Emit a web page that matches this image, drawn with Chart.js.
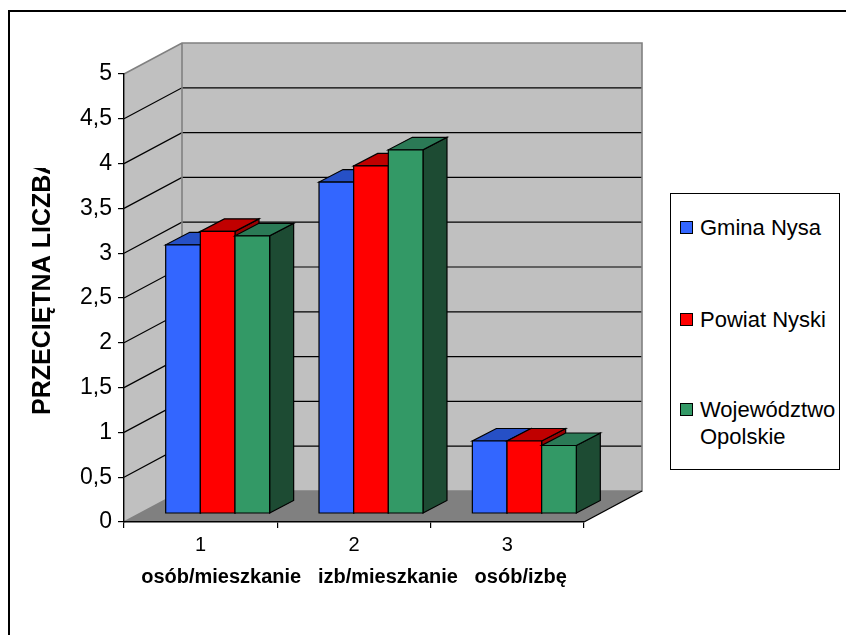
<!DOCTYPE html>
<html>
<head>
<meta charset="utf-8">
<script src="https://cdn.jsdelivr.net/npm/chart.js@4.4.1/dist/chart.umd.min.js"></script>
<style>
  html, body { margin: 0; padding: 0; background: #fff; }
  #wrap { position: relative; width: 846px; height: 635px; overflow: hidden; background: #fff; }
  #chart { position: absolute; left: 0; top: 0; }
  #frame { position: absolute; left: 8px; top: 10px; width: 1000px; height: 1000px;
           border-left: 2px solid #000; border-top: 2px solid #000; pointer-events: none; }
  #legend { position: absolute; left: 670px; top: 193px; width: 170px; height: 277px;
            border: 1.5px solid #000; box-sizing: border-box; background: #fff;
            font-family: "Liberation Sans", Arial, sans-serif; font-size: 22px; color: #000; }
  .lg-item { position: absolute; left: 0; width: 100%; }
  .lg-box { position: absolute; left: 9px; width: 11px; height: 11px; border: 1px solid #000; }
  .lg-text { position: absolute; left: 29px; width: 140px; line-height: 27px; white-space: normal; }
</style>
</head>
<body>
<div id="wrap">
  <canvas id="chart" width="846" height="635"></canvas>
  <div id="frame"></div>
  <div id="legend"></div>
</div>
<script>
// ---------- data ----------
const categories = ['1', '2', '3'];
const categoryTitle = 'osób/mieszkanie   izb/mieszkanie   osób/izbę';
const seriesNames = ['Gmina Nysa', 'Powiat Nyski', 'Województwo Opolskie'];
const gminaNysa   = [3.00, 3.70, 0.81];
const powiatNyski = [3.15, 3.88, 0.81];
const wojOpolskie = [3.10, 4.06, 0.76];
const yTicks = [0, 0.5, 1, 1.5, 2, 2.5, 3, 3.5, 4, 4.5, 5];
const yTitle = 'PRZECIĘTNA LICZBA';

// ---------- styles ----------
const FONT = '"Liberation Sans", Arial, sans-serif';
const frontColors = ['#3366FF', '#FF0000', '#339966'];
const topColors   = ['#2650C6', '#C00000', '#2B7A56'];
const sideColors  = ['#1E3D99', '#990000', '#1D4B33'];
const DX = 58, DY = -31;      // wall depth
const OX = 17, OY = -8.4;     // bar front plane offset
const BX = 24, BY = -12.5;    // bar depth

const walls3d = {
  id: 'walls3d',
  beforeDraw(chart) {
    const ctx = chart.ctx;
    const { left, right, top, bottom } = chart.chartArea;
    const ys = chart.scales.y;
    ctx.save();
    ctx.fillStyle = '#C0C0C0';
    ctx.beginPath();
    ctx.moveTo(left, top); ctx.lineTo(left + DX, top + DY);
    ctx.lineTo(left + DX, bottom + DY); ctx.lineTo(left, bottom); ctx.closePath();
    ctx.fill();
    ctx.fillRect(left + DX, top + DY, right - left, bottom - top);
    ctx.fillStyle = '#808080';
    ctx.beginPath();
    ctx.moveTo(left, bottom); ctx.lineTo(right, bottom);
    ctx.lineTo(right + DX, bottom + DY); ctx.lineTo(left + DX, bottom + DY); ctx.closePath();
    ctx.fill();
    ctx.strokeStyle = '#000'; ctx.lineWidth = 1.2;
    yTicks.forEach(v => {
      if (v === yTicks[0] || v === yTicks[yTicks.length - 1]) return;
      const py = ys.getPixelForValue(v);
      ctx.beginPath();
      ctx.moveTo(left, py); ctx.lineTo(left + DX, py + DY); ctx.lineTo(right + DX, py + DY);
      ctx.stroke();
    });
    ctx.strokeStyle = '#808080'; ctx.lineWidth = 1.6;
    ctx.beginPath();
    ctx.moveTo(left, top); ctx.lineTo(left + DX, top + DY); ctx.lineTo(right + DX, top + DY);
    ctx.lineTo(right + DX, bottom + DY); ctx.lineTo(left + DX, bottom + DY); ctx.lineTo(left, bottom);
    ctx.moveTo(left + DX, top + DY); ctx.lineTo(left + DX, bottom + DY);
    ctx.stroke();
    ctx.strokeStyle = '#000'; ctx.lineWidth = 1.4;
    ctx.beginPath();
    ctx.moveTo(right, bottom); ctx.lineTo(right + DX, bottom + DY);
    ctx.stroke();
    ctx.restore();
  },
  beforeDatasetsDraw(chart) {
    const ctx = chart.ctx;
    ctx.save();
    ctx.strokeStyle = '#000'; ctx.lineWidth = 1.2; ctx.lineJoin = 'miter';
    const nCat = chart.data.labels.length;
    for (let i = 0; i < nCat; i++) {
      chart.data.datasets.forEach((ds, d) => {
        const el = chart.getDatasetMeta(d).data[i];
        if (!el) return;
        const x0 = el.x - el.width / 2 + OX, x1 = el.x + el.width / 2 + OX;
        const yt = el.y + OY, yb = el.base + OY;
        ctx.fillStyle = sideColors[d];
        ctx.beginPath();
        ctx.moveTo(x1, yt); ctx.lineTo(x1 + BX, yt + BY); ctx.lineTo(x1 + BX, yb + BY); ctx.lineTo(x1, yb);
        ctx.closePath(); ctx.fill(); ctx.stroke();
        ctx.fillStyle = topColors[d];
        ctx.beginPath();
        ctx.moveTo(x0, yt); ctx.lineTo(x1, yt); ctx.lineTo(x1 + BX, yt + BY); ctx.lineTo(x0 + BX, yt + BY);
        ctx.closePath(); ctx.fill(); ctx.stroke();
        ctx.fillStyle = frontColors[d];
        ctx.beginPath();
        ctx.rect(x0, yt, x1 - x0, yb - yt);
        ctx.fill(); ctx.stroke();
      });
    }
    ctx.restore();
    return false;
  },
  afterDraw(chart) {
    const ctx = chart.ctx;
    ctx.save();
    ctx.beginPath();
    ctx.rect(0, 168, 120, 460);
    ctx.clip();
    ctx.translate(43, 415);
    ctx.rotate(-Math.PI / 2);
    ctx.font = 'bold 25px ' + FONT;
    ctx.fillStyle = '#000';
    ctx.textAlign = 'left';
    ctx.textBaseline = 'middle';
    ctx.fillText(yTitle, 0, 0);
    ctx.restore();
  }
};

const seriesValues = [gminaNysa, powiatNyski, wojOpolskie];

const chart = new Chart(document.getElementById('chart'), {
  type: 'bar',
  data: {
    labels: categories,
    datasets: seriesValues.map((vals, d) => ({
      label: seriesNames[d],
      data: vals,
      backgroundColor: frontColors[d],
      borderColor: '#000',
      borderWidth: 1,
      categoryPercentage: 0.678,
      barPercentage: 1.0
    }))
  },
  options: {
    responsive: false,
    animation: false,
    devicePixelRatio: 1,
    events: [],
    layout: { padding: { left: 0, top: 74, right: 262, bottom: 0 } },
    plugins: { legend: { display: false }, title: { display: false }, tooltip: { enabled: false } },
    scales: {
      x: {
        type: 'category',
        offset: true,
        grid: { display: true, offset: true, drawOnChartArea: false, drawTicks: true, tickLength: 6, color: '#000', lineWidth: 1.2 },
        border: { display: true, color: '#000', width: 1.4 },
        ticks: { color: '#000', font: { family: FONT, size: 20 }, padding: 5, maxRotation: 0 },
        title: { display: true, text: categoryTitle, color: '#000',
                 font: { family: FONT, size: 20, weight: 'bold' }, padding: { top: 0, bottom: 46 } },
        afterFit(s) { s.height = 113; }
      },
      y: {
        min: 0, max: 5,
        afterBuildTicks(s) { s.ticks = yTicks.map(v => ({ value: v })); },
        grid: { display: true, drawOnChartArea: false, drawTicks: true, tickLength: 6, color: '#000', lineWidth: 1.2 },
        border: { display: true, color: '#000', width: 1.4 },
        ticks: { color: '#000', font: { family: FONT, size: 23 }, padding: 6,
                 callback: v => String(v).replace('.', ',') },
        afterFit(s) { s.width = 124; }
      }
    }
  },
  plugins: [walls3d]
});

// ---------- legend (HTML, from dataset names/colours) ----------
const legend = document.getElementById('legend');
const itemCenters = [33, 125, 215];
chart.data.datasets.forEach((ds, d) => {
  const item = document.createElement('div');
  item.className = 'lg-item';
  item.style.top = (itemCenters[d] - 13.5) + 'px';
  const box = document.createElement('div');
  box.className = 'lg-box';
  box.style.top = '7px';
  box.style.background = ds.backgroundColor;
  const txt = document.createElement('div');
  txt.className = 'lg-text';
  txt.style.top = '0px';
  txt.textContent = ds.label;
  item.appendChild(box); item.appendChild(txt);
  legend.appendChild(item);
});
</script>
</body>
</html>
